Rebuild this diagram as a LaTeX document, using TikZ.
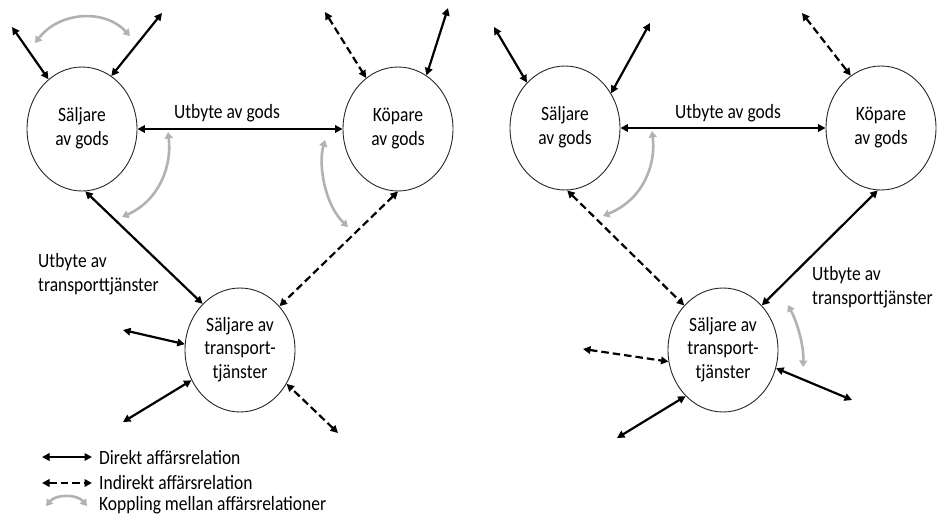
\documentclass[tikz,border=0pt]{standalone}
\usepackage{fontspec}
\setmainfont{Carlito}
\usetikzlibrary{arrows.meta,shapes.geometric}
\newcommand\dlabelfont{\fontsize{17.5}{20.2}\selectfont}
\newcommand\vst[2][c]{\scalebox{1}[1.16]{\begin{tabular}{@{}#1@{}}#2\end{tabular}}}
\begin{document}
\begin{tikzpicture}[x=1pt,y=-1pt,
  actor/.style={ellipse,draw=black!85,line width=0.9pt,minimum width=110pt,minimum height=124pt,inner sep=0pt,align=center,font=\dlabelfont},
  rel/.style={line width=2.2pt,{Triangle[length=7.5pt,width=7.5pt]}-{Triangle[length=7.5pt,width=7.5pt]}},
  ind/.style={rel,dash pattern=on 7.5pt off 4pt},
  cpl/.style={line width=2.6pt,draw=black!30,{Triangle[length=6.5pt,width=8pt,fill=black!30]}-{Triangle[length=6.5pt,width=8pt,fill=black!30]}},
  txt/.style={font=\dlabelfont,inner sep=0pt}
]
\useasboundingbox (0,0) rectangle (938,519);

% ---------- left diagram ----------
\node[actor] (sgL) at (82,129) {\vst{Säljare\\av gods}};
\node[actor] (kgL) at (398,129) {\vst{Köpare\\av gods}};
\node[actor] (stL) at (240,350) {\vst{Säljare av\\transport-\\tjänster}};

\draw[rel] (sgL.0) -- (kgL.180);
\node[txt,anchor=base] (ugL) at (227,118) {\scalebox{1}[1.16]{Utbyte av gods}};

\coordinate (a1) at (12,27);
\coordinate (a2) at (162,13);
\draw[rel] (a1) -- (sgL.124);
\draw[rel] (a2) -- (sgL.61);
\coordinate (a3) at (325,12);
\coordinate (a4) at (448,8);
\draw[ind] (a3) -- (kgL.122);
\draw[rel] (a4) -- (kgL.62);

\draw[rel] (sgL.-87) -- (stL.129);
\draw[ind] (kgL.-90) -- (stL.48);
\node[txt,anchor=north west] (utL) at (38,251) {\vst[l]{Utbyte av\\transporttjänster}};

\coordinate (a5) at (123,330);
\coordinate (a6) at (123,422);
\coordinate (a7) at (338,433);
\draw[rel] (a5) -- (stL.174);
\draw[rel] (a6) -- (stL.212);
\draw[ind] (a7) -- (stL.-36);

\coordinate (g1a) at (35,43);  \coordinate (g1b) at (130,36);
\draw[cpl] (g1a) .. controls (60,11) and (105,9) .. (g1b);
\coordinate (g2a) at (168,132); \coordinate (g2b) at (122,217);
\draw[cpl] (g2a) .. controls (172,165) and (160,200) .. (g2b);
\coordinate (g3a) at (325,140); \coordinate (g3b) at (348,227);
\draw[cpl] (g3a) .. controls (318,165) and (325,205) .. (g3b);

% ---------- legend ----------
\coordinate (l1a) at (42,457); \coordinate (l1b) at (92,457);
\draw[rel] (l1a) -- (l1b);
\node[txt,anchor=west] (t1) at (99,458) {\scalebox{1}[1.16]{Direkt affärsrelation}};
\coordinate (l2a) at (42,483); \coordinate (l2b) at (92,483);
\draw[ind] (l2a) -- (l2b);
\node[txt,anchor=west] (t2) at (99,483) {\scalebox{1}[1.16]{Indirekt affärsrelation}};
\coordinate (l3a) at (46,506); \coordinate (l3b) at (87,506);
\draw[cpl] (l3a) .. controls (56,494) and (77,494) .. (l3b);
\node[txt,anchor=west] (t3) at (99,505) {\scalebox{1}[1.16]{Koppling mellan affärsrelationer}};

% ---------- right diagram ----------
\node[actor] (sgR) at (565,128) {\vst{Säljare\\av gods}};
\node[actor] (kgR) at (881,128) {\vst{Köpare\\av gods}};
\node[actor] (stR) at (723,350) {\vst{Säljare av\\transport-\\tjänster}};

\draw[rel] (sgR.0) -- (kgR.180);
\node[txt,anchor=base] (ugR) at (728,118) {\scalebox{1}[1.16]{Utbyte av gods}};

\coordinate (b1) at (494,27);
\coordinate (b2) at (650,23);
\draw[rel] (b1) -- (sgR.130);
\draw[rel] (b2) -- (sgR.37);
\coordinate (b3) at (802,13);
\draw[ind] (b3) -- (kgR.120);

\draw[ind] (sgR.-88) -- (stR.131);
\draw[rel] (kgR.-93) -- (stR.49);
\node[txt,anchor=north west] (utR) at (812,264) {\vst[l]{Utbyte av\\transporttjänster}};

\coordinate (b5) at (583,349);
\coordinate (b6) at (617,438);
\coordinate (b7) at (852,400);
\draw[ind] (b5) -- (stR.192);
\draw[rel] (b6) -- (stR.231);
\draw[rel] (b7) -- (stR.-19);

\coordinate (h1a) at (652,131); \coordinate (h1b) at (603,216);
\draw[cpl] (h1a) .. controls (656,164) and (644,199) .. (h1b);
\coordinate (h2a) at (788,305); \coordinate (h2b) at (803,367);
\draw[cpl] (h2a) .. controls (797,322) and (804,345) .. (h2b);
\end{tikzpicture}
\end{document}
